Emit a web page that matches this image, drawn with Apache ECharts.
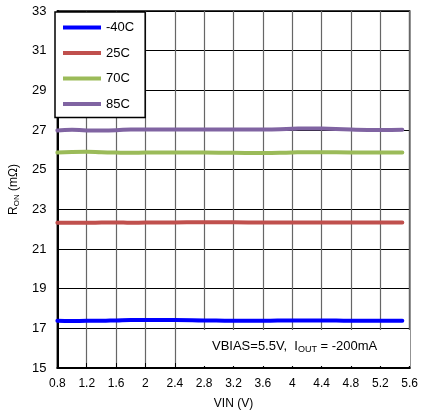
<!DOCTYPE html>
<html><head><meta charset="utf-8">
<script src="https://cdn.jsdelivr.net/npm/echarts@6/dist/echarts.min.js"></script>
<style>html,body{margin:0;padding:0;background:#fff}#c{width:421px;height:415px}</style>
</head><body><div id="c"></div>
<script>
const seriesNames = ['-40C', '25C', '70C', '85C'];
const seriesColors = ['#0000ff', '#c0504d', '#9bbb59', '#8064a2'];
const vin = [0.8, 1.0, 1.2, 1.4, 1.6, 1.8, 2.0, 2.4, 2.8, 3.2, 3.6, 4.0, 4.2, 4.4, 4.8, 5.2, 5.5];
const ronM40 = [17.38, 17.37, 17.38, 17.38, 17.40, 17.42, 17.42, 17.42, 17.40, 17.38, 17.38, 17.40, 17.40, 17.40, 17.38, 17.38, 17.38];
const ron25 = [22.32, 22.32, 22.32, 22.33, 22.34, 22.32, 22.33, 22.34, 22.35, 22.35, 22.33, 22.34, 22.34, 22.34, 22.34, 22.34, 22.34];
const ron70 = [25.86, 25.89, 25.90, 25.88, 25.86, 25.85, 25.86, 25.87, 25.86, 25.85, 25.84, 25.87, 25.88, 25.88, 25.87, 25.87, 25.87];
const ron85 = [26.98, 27.01, 26.98, 26.98, 26.99, 27.03, 27.03, 27.02, 27.02, 27.02, 27.02, 27.06, 27.08, 27.07, 27.02, 27.00, 27.01];
const yTicks = [15, 17, 19, 21, 23, 25, 27, 29, 31, 33];
const seriesData = [ronM40, ron25, ron70, ron85];

const chart = echarts.init(document.getElementById('c'));
const font = 'Liberation Sans, Arial, sans-serif';
chart.setOption({
  animation: false,
  textStyle: {fontFamily: font},
  grid: {left: 54, right: 9, top: 11, bottom: 47, show: true, borderColor: '#000', borderWidth: 1.5, backgroundColor: 'transparent'},
  xAxis: {
    type: 'value', min: 0.8, max: 5.6, interval: 0.4,
    name: 'VIN (V)', nameLocation: 'middle', nameGap: 30,
    nameTextStyle: {fontSize: 12, color: '#000'},
    axisLine: {show: true, onZero: false, lineStyle: {color: '#000', width: 2}},
    axisTick: {show: true, inside: true, length: 5, lineStyle: {color: '#000'}},
    axisLabel: {color: '#000', fontSize: 12, margin: 10, formatter: v => String(+v.toFixed(1))},
    splitLine: {show: true, lineStyle: {color: '#666', width: 1.2}}
  },
  yAxis: {
    type: 'value', min: 15, max: 33,
    name: '{a|R}{s|ON}{a| (mΩ)}', nameLocation: 'middle', nameGap: 34, nameRotate: 90,
    nameTextStyle: {rich: {a: {fontSize: 12, color: '#000', fontFamily: font}, s: {fontSize: 8, color: '#000', verticalAlign: 'bottom', padding: [6, 0, 0, 0], fontFamily: font}}},
    axisLine: {show: true, lineStyle: {color: '#000', width: 2}},
    axisTick: {show: false, customValues: yTicks},
    axisLabel: {color: '#000', fontSize: 13, margin: 11, customValues: yTicks},
    splitLine: {show: true, lineStyle: {color: '#000', width: 1.2}}
  },
  legend: {
    orient: 'vertical', left: 55, top: 12,
    data: seriesNames,
    icon: 'rect', itemWidth: 38, itemHeight: 4, itemGap: 12.5,
    padding: [9, 11, 7, 8],
    borderColor: '#000', borderWidth: 1.5, backgroundColor: '#fff',
    textStyle: {fontSize: 13, color: '#000'}
  },
  graphic: [
    {type: 'rect', shape: {x: 201, y: 330, width: 209, height: 36}, style: {fill: '#fff'}, z: 1},
    {type: 'text', left: 212, top: 340, z: 2, style: {
      text: '{a|VBIAS=5.5V,  I}{s|OUT}{a| = -200mA}',
      rich: {a: {fontSize: 13, fill: '#000', fontFamily: font}, s: {fontSize: 9, fill: '#000', padding: [6, 0, 0, 0], fontFamily: font}}
    }}
  ],
  series: seriesNames.map((n, i) => ({
    name: n, type: 'line', smooth: true, showSymbol: false, z: 3,
    color: seriesColors[i],
    lineStyle: {width: 4, color: seriesColors[i], cap: 'round'},
    data: vin.map((x, j) => [x, seriesData[i][j]])
  }))
});
</script></body></html>
